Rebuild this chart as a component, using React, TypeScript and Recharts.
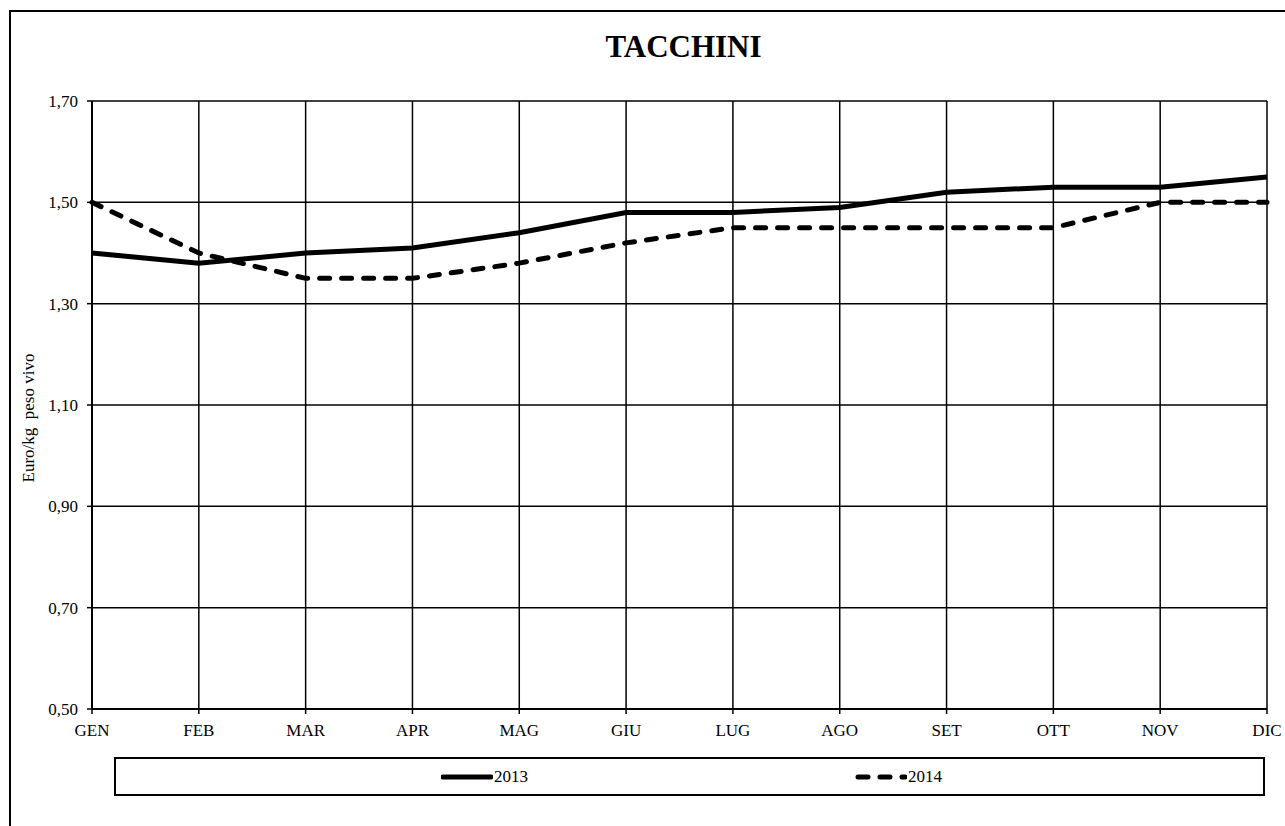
import React from "react";
import { LineChart, Line, XAxis, YAxis, CartesianGrid, Legend } from "recharts";

const months = ["GEN", "FEB", "MAR", "APR", "MAG", "GIU", "LUG", "AGO", "SET", "OTT", "NOV", "DIC"];
const values2013 = [1.40, 1.38, 1.40, 1.41, 1.44, 1.48, 1.48, 1.49, 1.52, 1.53, 1.53, 1.55];
const values2014 = [1.50, 1.40, 1.35, 1.35, 1.38, 1.42, 1.45, 1.45, 1.45, 1.45, 1.50, 1.50];
const yTicks = [0.5, 0.7, 0.9, 1.1, 1.3, 1.5, 1.7];
const seriesNames = ["2013", "2014"];

const data = months.map((m, i) => ({ month: m, y2013: values2013[i], y2014: values2014[i] }));

const FONT = "'Liberation Serif', 'Times New Roman', serif";

const LegendContent = () => (
  <div
    style={{
      width: 1151,
      height: 39,
      boxSizing: "border-box",
      border: "2px solid #000",
      position: "relative",
      fontFamily: FONT,
      fontSize: 17,
      background: "#fff",
    }}
  >
    <div style={{ position: "absolute", left: 325, top: 8, display: "flex", alignItems: "center" }}>
      <svg width={52} height={12}>
        <line x1={2} y1={6} x2={50} y2={6} stroke="#000" strokeWidth={5} strokeLinecap="round" />
      </svg>
      <span style={{ marginLeft: 1 }}>{seriesNames[0]}</span>
    </div>
    <div style={{ position: "absolute", left: 739, top: 8, display: "flex", alignItems: "center" }}>
      <svg width={52} height={12}>
        <line x1={3} y1={6} x2={50} y2={6} stroke="#000" strokeWidth={5} strokeLinecap="round" strokeDasharray="10 12" />
      </svg>
      <span style={{ marginLeft: 1 }}>{seriesNames[1]}</span>
    </div>
  </div>
);

const YLabel = (props: any) => {
  const vb = props.viewBox || { x: 0, y: 0, width: 0, height: 0 };
  const x = vb.x + 28;
  const y = vb.y + vb.height / 2 + 13;
  return (
    <text
      x={x}
      y={y}
      transform={`rotate(-90, ${x}, ${y})`}
      textAnchor="middle"
      dominantBaseline="central"
      fontFamily={FONT}
      fontSize={17}
      fill="#000"
      style={{ whiteSpace: "pre" }}
    >
      {"Euro/kg  peso vivo"}
    </text>
  );
};

export default function App() {
  return (
    <div style={{ position: "fixed", left: 0, top: 0, width: 1285, height: 826, background: "#fff", overflow: "hidden" }}>
      <div
        style={{
          position: "absolute",
          left: 9,
          top: 10,
          width: 1276,
          height: 816,
          boxSizing: "border-box",
          borderLeft: "2px solid #000",
          borderTop: "2px solid #000",
        }}
      />
      <div
        style={{
          position: "absolute",
          left: 0,
          top: 29,
          width: 1285,
          textAlign: "center",
          fontFamily: FONT,
          fontWeight: "bold",
          fontSize: 31,
          paddingLeft: 82,
          boxSizing: "border-box",
        }}
      >
        TACCHINI
      </div>
      <div style={{ position: "absolute", left: 0, top: 0 }}>
        <LineChart width={1285} height={826} data={data} margin={{ top: 101, right: 18, left: 0, bottom: 87 }}>
          <CartesianGrid stroke="#000" strokeWidth={1.5} strokeOpacity={1} />
          <XAxis
            dataKey="month"
            interval={0}
            height={30}
            tickSize={5}
            tickMargin={10}
            axisLine={{ stroke: "#000", strokeWidth: 2 }}
            tickLine={{ stroke: "#000", strokeWidth: 1.5 }}
            tick={{ fill: "#000", fontFamily: FONT, fontSize: 17 }}
          />
          <YAxis
            type="number"
            domain={[0.5, 1.7]}
            ticks={yTicks}
            width={92}
            tickSize={5}
            tickMargin={9}
            interval={0}
            allowDataOverflow
            axisLine={{ stroke: "#000", strokeWidth: 2 }}
            tickLine={{ stroke: "#000", strokeWidth: 1.5 }}
            tick={{ fill: "#000", fontFamily: FONT, fontSize: 17 }}
            tickFormatter={(v: number) => v.toFixed(2).replace(".", ",")}
            label={<YLabel />}
          />
          <Legend
            layout="horizontal"
            align="center"
            verticalAlign="middle"
            content={<LegendContent />}
            wrapperStyle={{ left: 114, top: 757, width: 1151, height: 39 }}
          />
          <Line
            type="linear"
            dataKey="y2013"
            name={seriesNames[0]}
            stroke="#000"
            strokeWidth={5}
            dot={false}
            activeDot={false}
            isAnimationActive={false}
          />
          <Line
            type="linear"
            dataKey="y2014"
            name={seriesNames[1]}
            stroke="#000"
            strokeWidth={5}
            strokeDasharray="10 12"
            strokeLinecap="round"
            dot={false}
            activeDot={false}
            isAnimationActive={false}
          />
        </LineChart>
      </div>
    </div>
  );
}
